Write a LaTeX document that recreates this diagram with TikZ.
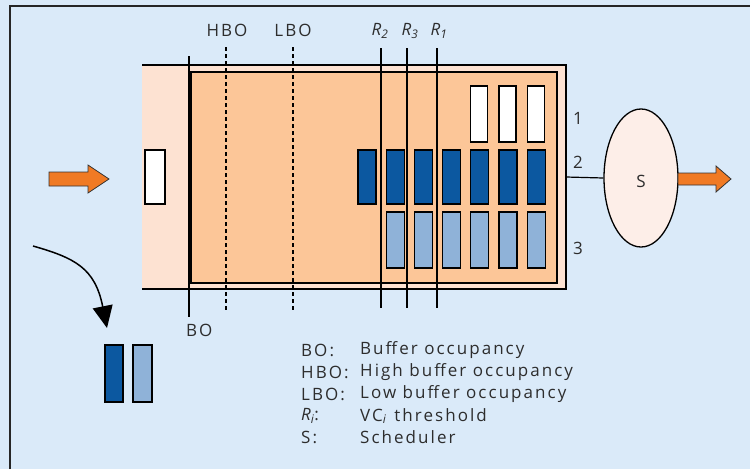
\documentclass[tikz,border=0pt]{standalone}
\usepackage{fontspec}
\newfontfamily\lblfont[LetterSpace=12]{Open Sans}
\usetikzlibrary{shapes.geometric,arrows.meta}

\definecolor{bgblue}{RGB}{218,234,249}
\definecolor{bufpink}{RGB}{253,226,210}
\definecolor{buforange}{RGB}{252,198,152}
\definecolor{celldark}{RGB}{12,88,160}
\definecolor{celllight}{RGB}{143,178,216}
\definecolor{arroworange}{RGB}{240,122,36}
\definecolor{schedpink}{RGB}{253,238,232}
\definecolor{txtgray}{RGB}{45,45,45}

\tikzset{
    lbl/.style={text=txtgray, font=\lblfont\fontsize{17}{20}\selectfont, inner sep=1pt},
    cell/.style={draw=black, line width=1.2pt},
    thresh/.style={line width=1.3pt},
    flow/.style={fill=arroworange, draw=black!80, line width=0.8pt},
}

\begin{document}
\begin{tikzpicture}[x=1pt,y=-1pt]
    % Background
    \fill[bgblue] (0,0) rectangle (750,469);
    \useasboundingbox (0,0) rectangle (750,469);
    \draw[line width=1.2pt, black!85] (10,469) -- (10,6) -- (750,6);

    % Buffer
    \fill[bufpink] (142,65) rectangle (566,289);
    \draw[line width=1.3pt] (142,65) -- (566,65) -- (566,289) -- (142,289);
    \fill[buforange] (190,72) rectangle (557,283);
    \draw[line width=1.3pt] (190,72) rectangle (557,283);
    \draw[line width=3pt] (190,72) -- (190,283);

    % Cells
    \foreach \i in {4,5,6} {
        \fill[white, cell] (358+28.2*\i,86) rectangle ++(17,56);
    }
    \foreach \i in {0,...,6} {
        \fill[celldark, cell] (358+28.2*\i,150) rectangle ++(18,54);
    }
    \foreach \i in {1,...,6} {
        \fill[celllight, cell] (358+28.2*\i,212) rectangle ++(18,56);
    }

    % Occupancy lines
    \draw[thresh] (189,56) -- (189,317);
    \draw[line width=1.8pt, dash pattern=on 4pt off 3pt] (226,47) -- (226,310);
    \draw[line width=1.8pt, dash pattern=on 4pt off 3pt] (293,47) -- (293,310);
    \draw[thresh] (381,48) -- (381,308);
    \draw[thresh] (407,48) -- (407,308);
    \draw[thresh] (437,48) -- (437,308);

    \node[lbl] (hbo) at (227,30) {HBO};
    \node[lbl] (lbo) at (293,30) {LBO};
    \node[lbl] (r2) at (380,31) {\textit{R\textsubscript{2}}};
    \node[lbl] (r3) at (410,31) {\textit{R\textsubscript{3}}};
    \node[lbl] (r1) at (439,31) {\textit{R\textsubscript{1}}};
    \node[lbl, anchor=north west] (bo) at (185,323) {BO};

    % Row numbers
    \node[lbl] (row1) at (578,118) {1};
    \node[lbl] (row2) at (578,162) {2};
    \node[lbl] (row3) at (578,248) {3};

    % Incoming cell
    \fill[white, cell] (145,150) rectangle (165,204);
    \filldraw[flow] (49,172) -- (88,172) -- (88,165) -- (109,179) -- (88,193) -- (88,186) -- (49,186) -- cycle;

    % Scheduler
    \node[ellipse, draw, line width=1.3pt, fill=schedpink, minimum width=74pt, minimum height=138pt, inner sep=0pt] (sched) at (641,178) {};
    \node[lbl] (slbl) at (641,181) {S};
    \coordinate (qout) at (566,177);
    \draw[line width=1.2pt] (qout) -- (sched.west);
    \filldraw[flow] (678,173) -- (716,173) -- (716,166) -- (731,179) -- (716,192) -- (716,185) -- (678,185) -- cycle;

    % Cell types
    \coordinate (drop) at (33,246);
    \coordinate (pair) at (107,328);
    \draw[line width=1.5pt, -{Triangle[length=22pt,width=20pt]}] (drop) .. controls (75,258) and (95,268) .. (pair);
    \fill[celldark, cell] (105,345) rectangle (123,402);
    \fill[celllight, cell] (133,345) rectangle (152,402);

    % Legend
    \node[lbl, anchor=west] (k1) at (300,350) {BO:};
    \node[lbl, anchor=west] (k2) at (300,372) {HBO:};
    \node[lbl, anchor=west] (k3) at (300,394) {LBO:};
    \node[lbl, anchor=west] (k4) at (300,416) {\textit{R\textsubscript{i}}:};
    \node[lbl, anchor=west] (k5) at (300,437) {S:};
    \node[lbl, anchor=west] (v1) at (359,350) {Buffer occupancy};
    \node[lbl, anchor=west] (v2) at (359,372) {High buffer occupancy};
    \node[lbl, anchor=west] (v3) at (359,394) {Low buffer occupancy};
    \node[lbl, anchor=west] (v4) at (359,416) {VC\textsubscript{\textit{i}} threshold};
    \node[lbl, anchor=west] (v5) at (359,437) {Scheduler};
\end{tikzpicture}
\end{document}
